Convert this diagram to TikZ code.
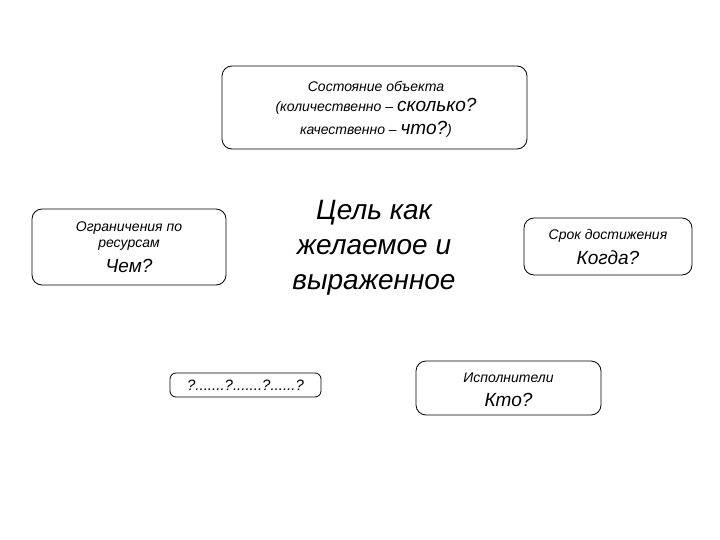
\documentclass[tikz,border=0pt]{standalone}
\usepackage{fontspec}
\setmainfont{Liberation Sans}
\begin{document}
\begin{tikzpicture}[x=1pt,y=-1pt,
 box/.style={draw,thick,rounded corners=10pt},
 txt/.style={font=\itshape,align=center,inner sep=0pt}]
\useasboundingbox (0,0) rectangle (720,540);
\node[box,minimum width=305pt,minimum height=83pt] (top) at (374.5,107.5) {};
\node[txt,font=\itshape\fontsize{14}{17}\selectfont] (t1) at (376,86) {Состояние объекта};
\node[txt,font=\itshape\fontsize{14}{17}\selectfont] (t2) at (376,106) {(количественно – {\fontsize{19}{20}\selectfont сколько?}};
\node[txt,font=\itshape\fontsize{14}{17}\selectfont] (t3) at (376,129) {качественно – {\fontsize{19}{20}\selectfont что?})};
\node[box,minimum width=194pt,minimum height=76pt] (left) at (129,247) {};
\node[txt,font=\itshape\fontsize{14}{16}\selectfont] (l1) at (129,236) {Ограничения по\\ресурсам};
\node[txt,font=\itshape\fontsize{19}{20}\selectfont] (l2) at (129,266) {Чем?};
\node[box,minimum width=168pt,minimum height=57pt] (right) at (608,246.5) {};
\node[txt,font=\itshape\fontsize{14}{16}\selectfont] (r1) at (608,236) {Срок достижения};
\node[txt,font=\itshape\fontsize{19}{20}\selectfont] (r2) at (608,258) {Когда?};
\node[txt,font=\itshape\fontsize{28}{35}\selectfont] (c) at (374,248) {Цель как\\желаемое и\\выраженное};
\node[box,rounded corners=6pt,minimum width=151pt,minimum height=24pt] (bl) at (245.5,385) {};
\node[txt,font=\itshape\fontsize{15}{17}\selectfont] (bl1) at (245.5,385) {?.......?.......?......?};
\node[box,minimum width=185pt,minimum height=54pt] (br) at (508.5,388) {};
\node[txt,font=\itshape\fontsize{14}{16}\selectfont] (br1) at (508.5,378) {Исполнители};
\node[txt,font=\itshape\fontsize{19}{20}\selectfont] (br2) at (508.5,400) {Кто?};
\end{tikzpicture}
\end{document}
